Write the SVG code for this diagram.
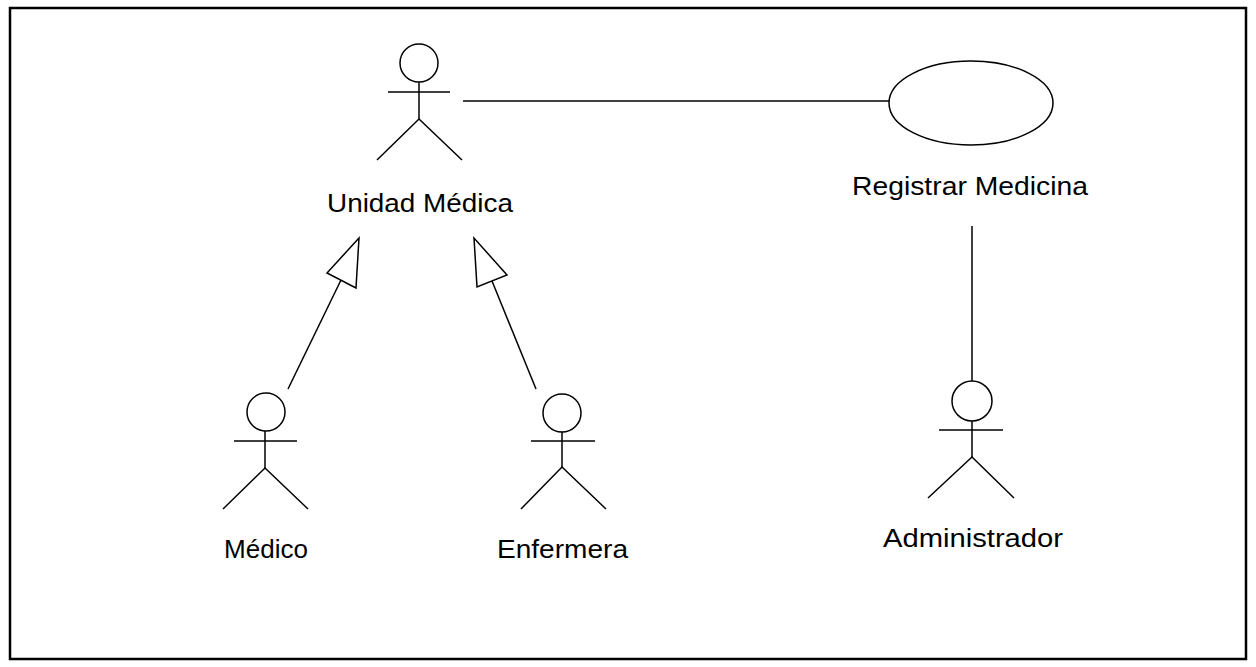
<svg xmlns="http://www.w3.org/2000/svg" width="1256" height="667" viewBox="0 0 1256 667">
<style>
.s{fill:none;stroke:#000;stroke-width:1.5}
.t{font-family:"Liberation Sans",Arial,sans-serif;font-size:25px;fill:#000}
</style>
<rect x="0" y="0" width="1256" height="667" fill="#fff"/>
<rect x="10" y="8" width="1236" height="651" fill="none" stroke="#000" stroke-width="2.5"/>
<g id="connectors">
<line class="s" x1="463" y1="101" x2="889" y2="101"/>
<line class="s" x1="972" y1="226" x2="972" y2="381"/>
<line class="s" x1="288" y1="389" x2="341" y2="280"/>
<polygon class="s" points="359,238 327,273 356,288"/>
<line class="s" x1="536" y1="389" x2="492" y2="281"/>
<polygon class="s" points="474,238 477,287 507,275"/>
</g>
<g id="unidad-medica">
<circle class="s" cx="419" cy="63" r="19"/>
<line class="s" x1="388" y1="92" x2="450" y2="92"/>
<line class="s" x1="419" y1="82" x2="419" y2="119"/>
<polyline class="s" points="377,160 419,119 462,160"/>
<text class="t" x="327" y="212" textLength="186" lengthAdjust="spacingAndGlyphs">Unidad Médica</text>
</g>
<g id="registrar-medicina">
<ellipse class="s" cx="971" cy="103" rx="82" ry="42"/>
<text class="t" x="852" y="195" textLength="236" lengthAdjust="spacingAndGlyphs">Registrar Medicina</text>
</g>
<g id="medico">
<circle class="s" cx="266" cy="412" r="19"/>
<line class="s" x1="234" y1="441" x2="297" y2="441"/>
<line class="s" x1="265" y1="431" x2="265" y2="468"/>
<polyline class="s" points="223,509 265,468 308,509"/>
<text class="t" x="224" y="558" textLength="84" lengthAdjust="spacingAndGlyphs">Médico</text>
</g>
<g id="enfermera">
<circle class="s" cx="562" cy="413" r="19"/>
<line class="s" x1="531" y1="441" x2="595" y2="441"/>
<line class="s" x1="562" y1="432" x2="562" y2="467"/>
<polyline class="s" points="521,509 562,467 606,509"/>
<text class="t" x="497" y="558" textLength="131" lengthAdjust="spacingAndGlyphs">Enfermera</text>
</g>
<g id="administrador">
<circle class="s" cx="972" cy="401" r="20"/>
<line class="s" x1="939" y1="430" x2="1003" y2="430"/>
<line class="s" x1="972" y1="421" x2="972" y2="457"/>
<polyline class="s" points="928,498 972,457 1014,498"/>
<text class="t" x="883" y="547" textLength="180" lengthAdjust="spacingAndGlyphs">Administrador</text>
</g>
</svg>
